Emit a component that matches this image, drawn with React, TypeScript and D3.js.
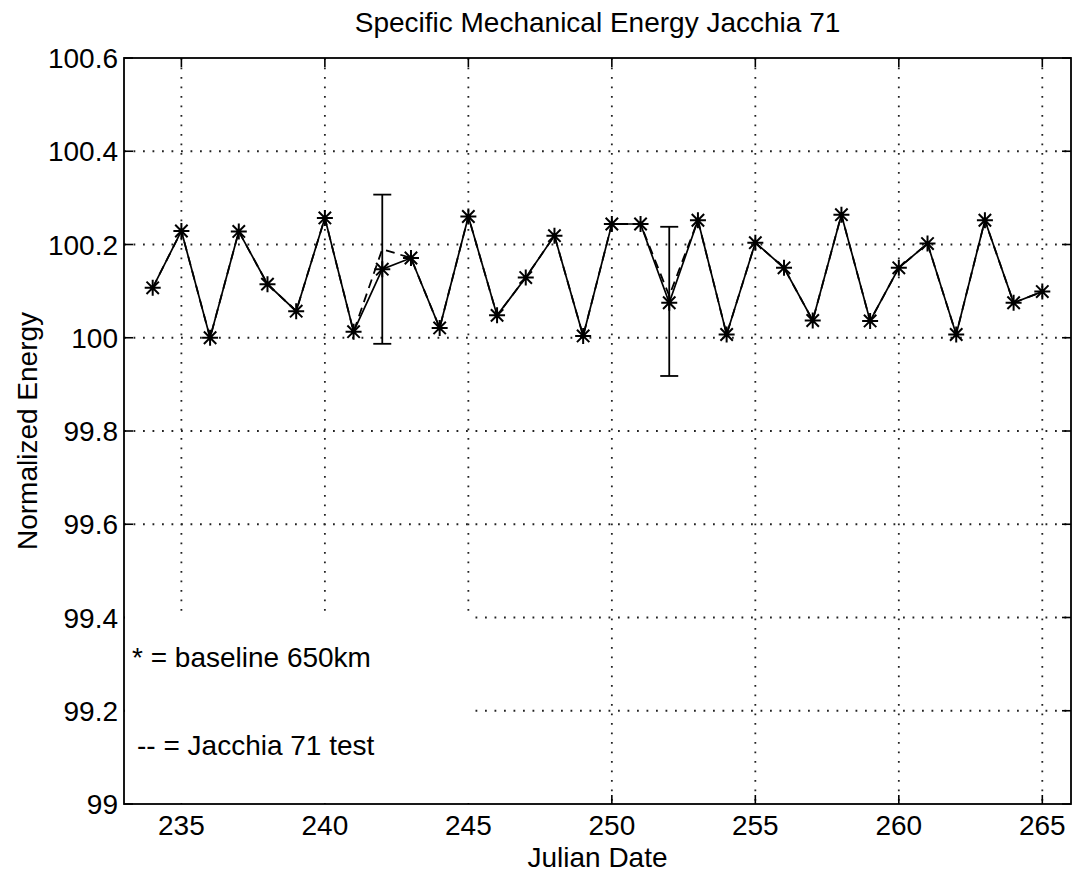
import React from "react";
import * as d3 from "d3";

const days = [234,235,236,237,238,239,240,241,242,243,244,245,246,247,248,249,250,251,252,253,254,255,256,257,258,259,260,261,262,263,264,265];
const baseline = [100.107,100.229,100.0,100.228,100.115,100.057,100.257,100.013,100.147,100.171,100.021,100.26,100.048,100.129,100.219,100.004,100.244,100.244,100.075,100.252,100.007,100.204,100.15,100.037,100.264,100.036,100.15,100.202,100.007,100.252,100.075,100.099];
const jacchiaTest = [100.107,100.229,100.0,100.228,100.115,100.057,100.257,100.013,100.19,100.171,100.021,100.26,100.048,100.129,100.219,100.004,100.244,100.244,100.09,100.252,100.007,100.204,100.15,100.037,100.264,100.036,100.15,100.202,100.007,100.252,100.075,100.099];
const errDays = [242, 252];
const errCenter = [100.147, 100.078];
const errHalf = [0.16, 0.16];
const xTicks = [235,240,245,250,255,260,265];
const yTicks = [99,99.2,99.4,99.6,99.8,100,100.2,100.4,100.6];
const yTickLabels = ["99","99.2","99.4","99.6","99.8","100","100.2","100.4","100.6"];
const titleText = "Specific Mechanical Energy Jacchia 71";
const xLabel = "Julian Date";
const yLabel = "Normalized Energy";
const legendLines = ["* = baseline 650km", "-- = Jacchia 71 test"];

const W = 1073, H = 876;
const L = 124, R = 1071, T = 58, B = 804;
const FONT = "'Liberation Sans', Arial, Helvetica, sans-serif";

export default function App() {
  const x = d3.scaleLinear().domain([233, 266]).range([L, R]);
  const y = d3.scaleLinear().domain([99, 100.6]).range([B, T]);
  const line = d3.line<number>().x((_, i) => x(days[i])).y(d => y(d));
  const tickLen = 9;
  const gridDash = "1.8 7.7";
  const s = 8, a = 6.2;
  const star = `M${-s},0H${s}M0,${-s}V${s}M${-a},${-a}L${a},${a}M${-a},${a}L${a},${-a}`;
  const legendRight = x(245) + 1.8;
  const legendTop = y(99.4) - 5;
  return (
    <svg width={W} height={H} style={{ position: "absolute", left: 0, top: 0, background: "#fff" }} fontFamily={FONT}>
      <rect x={0} y={0} width={W} height={H} fill="#fff" />
      <g stroke="#222" strokeWidth={1.8} strokeDasharray={gridDash} fill="none">
        {xTicks.map(t => <line key={"gx"+t} x1={x(t)} x2={x(t)} y1={T} y2={B} />)}
        {yTicks.filter(t => t > 99 && t < 100.6).map(t => <line key={"gy"+t} x1={L} x2={R} y1={y(t)} y2={y(t)} />)}
      </g>
      <g stroke="#000" strokeWidth={1.6}>
        {xTicks.map(t => <g key={"tx"+t}>
          <line x1={x(t)} x2={x(t)} y1={B} y2={B - tickLen} />
          <line x1={x(t)} x2={x(t)} y1={T} y2={T + tickLen} />
        </g>)}
        {yTicks.map(t => <g key={"ty"+t}>
          <line x1={L} x2={L + tickLen} y1={y(t)} y2={y(t)} />
          <line x1={R} x2={R - tickLen} y1={y(t)} y2={y(t)} />
        </g>)}
      </g>
      <rect x={L + 1} y={legendTop} width={legendRight - L - 1} height={B - legendTop - 1} fill="#fff" />
      <rect x={L} y={T} width={R - L} height={B - T} fill="none" stroke="#000" strokeWidth={1.8} />
      <g stroke="#000" strokeWidth={1.8}>
        {errDays.map((d, i) => {
          const cx = x(d), y1 = y(errCenter[i] + errHalf[i]), y2 = y(errCenter[i] - errHalf[i]);
          return <g key={"e"+d}>
            <line x1={cx} x2={cx} y1={y1} y2={y2} />
            <line x1={cx - 9} x2={cx + 9} y1={y1} y2={y1} />
            <line x1={cx - 9} x2={cx + 9} y1={y2} y2={y2} />
          </g>;
        })}
      </g>
      <path d={line(jacchiaTest) || ""} fill="none" stroke="#000" strokeWidth={1.8} strokeDasharray="9 6" />
      <path d={line(baseline) || ""} fill="none" stroke="#000" strokeWidth={1.7} />
      <g stroke="#000" strokeWidth={2} fill="none">
        {baseline.map((v, i) => <path key={"m"+i} d={star} transform={`translate(${x(days[i])},${y(v)})`} />)}
      </g>
      <g fontSize={28} fill="#000">
        {xTicks.map(t => <text key={"lx"+t} x={x(t)} y={835} textAnchor="middle">{t}</text>)}
        {yTicks.map((t, i) => <text key={"ly"+t} x={118} y={y(t)} dy="0.36em" textAnchor="end">{yTickLabels[i]}</text>)}
      </g>
      <text x={(L + R) / 2} y={32} textAnchor="middle" fontSize={28}>{titleText}</text>
      <text x={(L + R) / 2} y={867} textAnchor="middle" fontSize={28}>{xLabel}</text>
      <text transform={`translate(37,${(T + B) / 2}) rotate(-90)`} textAnchor="middle" fontSize={28}>{yLabel}</text>
      <text x={132} y={667} fontSize={28}>{legendLines[0]}</text>
      <text x={137} y={755} fontSize={28}>{legendLines[1]}</text>
    </svg>
  );
}
